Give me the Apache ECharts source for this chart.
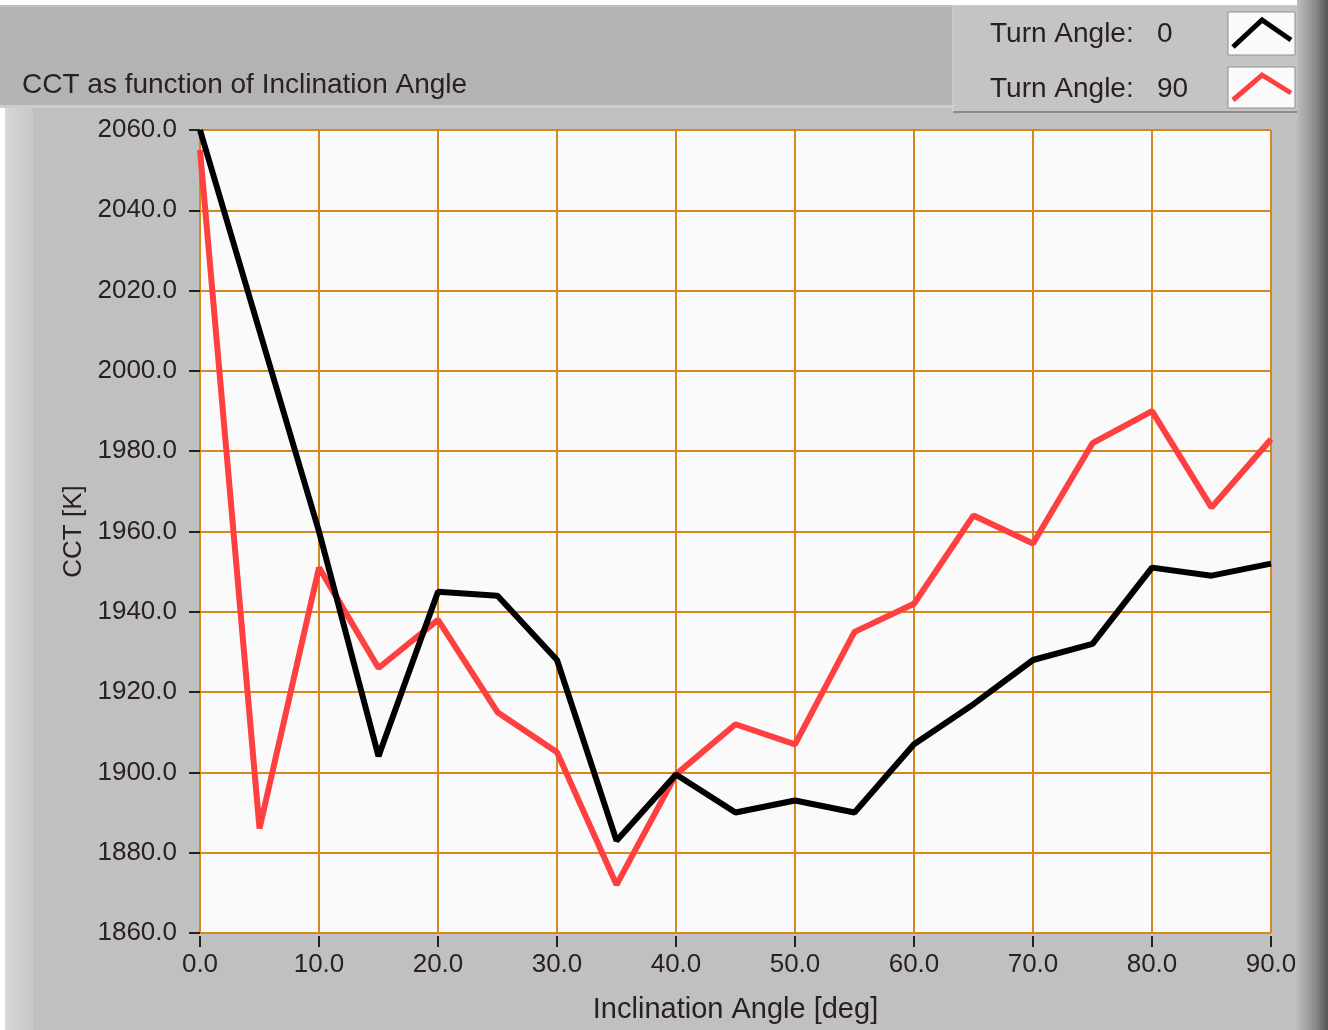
<!DOCTYPE html>
<html>
<head>
<meta charset="utf-8">
<script src="https://cdn.jsdelivr.net/npm/echarts@6/dist/echarts.min.js"></script>
<style>
  html, body {margin: 0; padding: 0; background: #fff;}
  #chart {width: 1328px; height: 1030px;}
</style>
</head>
<body>
<div id="chart"></div>
<script>
// inclination angle [deg]
const angles = [0, 5, 10, 15, 20, 25, 30, 35, 40, 45, 50, 55, 60, 65, 70, 75, 80, 85, 90];
// CCT [K] for turn angle 0
const turn0 = [2060, 2010, 1960, 1904, 1945, 1944, 1928, 1883, 1899.5, 1890, 1893, 1890, 1907, 1917, 1928, 1932, 1951, 1949, 1952];
// CCT [K] for turn angle 90
const turn90 = [2055, 1886, 1951, 1926, 1938, 1915, 1905, 1872, 1899.5, 1912, 1907, 1935, 1942, 1964, 1957, 1982, 1990, 1966, 1983];
const turnLabels = ['0', '90'];
const seriesNames = ['Turn Angle: 0', 'Turn Angle: 90'];
const lineColors = ['#000000', '#ff4040'];

const font = '"Liberation Sans", Arial, sans-serif';
const textColor = '#2a2024';
const gridColor = '#d4891e';

const chart = echarts.init(document.getElementById('chart'));

const pairs = (ys) => angles.map((x, i) => [x, ys[i]]);

// little sample box with a chevron, like the LabVIEW plot legend
const sampleBox = (y, h, color) => [
	{type: 'rect', z: 1, shape: {x: 1228, y: y, width: 67, height: h}, style: {fill: '#fafafa', stroke: '#8f8f8f', lineWidth: 1}},
	{type: 'polyline', z: 2, shape: {points: [[1233, y + h - 8], [1262, y + 8], [1291, y + h - 15]]},
		style: {stroke: color, lineWidth: 5, fill: null}}
];

chart.setOption({
	backgroundColor: '#c0c0c0',
	animation: false,
	textStyle: {fontFamily: font},
	title: {
		text: 'CCT as function of Inclination Angle',
		left: 17,
		top: 66,
		textStyle: {fontSize: 28, fontWeight: 'normal', color: textColor, fontFamily: font}
	},
	graphic: [
		// top band behind the title
		{type: 'rect', z: -1, shape: {x: 0, y: 7, width: 953, height: 98}, style: {fill: '#b3b3b3'}},
		{type: 'rect', z: -1, shape: {x: 0, y: 105, width: 953, height: 3}, style: {fill: '#cdcdcd'}},
		// legend panel
		{type: 'rect', z: -1, shape: {x: 953, y: 5, width: 360, height: 107}, style: {fill: '#c4c4c4', stroke: '#d8d8d8', lineWidth: 1}},
		{type: 'rect', z: -1, shape: {x: 953, y: 111, width: 360, height: 2}, style: {fill: '#8c8c8c'}},
		// white row at the very top
		{type: 'rect', z: -1, shape: {x: 0, y: 0, width: 1328, height: 5}, style: {fill: '#ffffff'}},
		// left light edge
		{type: 'rect', z: -1, shape: {x: 0, y: 108, width: 5, height: 922}, style: {fill: '#ffffff'}},
		{type: 'rect', z: -1, shape: {x: 5, y: 108, width: 28, height: 922}, style: {
			fill: new echarts.graphic.LinearGradient(0, 0, 1, 0, [
				{offset: 0, color: '#d8d8d8'}, {offset: 1, color: '#c8c8c8'}
			])
		}},
		// right dark edge
		{type: 'rect', z: -1, shape: {x: 1297, y: 0, width: 31, height: 1030}, style: {
			fill: new echarts.graphic.LinearGradient(0, 0, 1, 0, [
				{offset: 0, color: '#bcbcbc'}, {offset: 0.6, color: '#8a8a8a'}, {offset: 1, color: '#555555'}
			])
		}},
		...sampleBox(12, 43, lineColors[0]),
		...sampleBox(67, 41, lineColors[1])
	],
	legend: {
		orient: 'vertical',
		left: 979,
		top: 15,
		align: 'left',
		itemWidth: 1,
		itemHeight: 27,
		itemGap: 27,
		icon: 'rect',
		itemStyle: {opacity: 0},
		lineStyle: {opacity: 0},
		selectedMode: false,
		formatter: (name) => '{a|Turn Angle:}{b|' + turnLabels[seriesNames.indexOf(name)] + '}',
		textStyle: {
			color: textColor,
			fontFamily: font,
			rich: {
				a: {width: 167, align: 'left', fontSize: 28, color: textColor, fontFamily: font},
				b: {width: 71, align: 'left', fontSize: 28, color: textColor, fontFamily: font}
			}
		},
		data: seriesNames
	},
	grid: {
		left: 200,
		top: 130,
		right: 57,
		bottom: 97,
		show: true,
		backgroundColor: '#fafafa',
		borderColor: '#8a8a8a',
		borderWidth: 1
	},
	xAxis: {
		type: 'value',
		min: 0,
		max: 90,
		interval: 10,
		offset: 3,
		name: 'Inclination Angle [deg]',
		nameLocation: 'middle',
		nameGap: 59,
		nameTextStyle: {fontSize: 29, color: textColor, fontFamily: font},
		axisLine: {show: false},
		axisTick: {show: true, length: 11, lineStyle: {color: '#222', width: 2}},
		axisLabel: {
			fontSize: 26, color: textColor, fontFamily: font, margin: 16,
			formatter: (v) => v.toFixed(1)
		},
		splitLine: {show: true, lineStyle: {color: gridColor, width: 2}}
	},
	yAxis: {
		type: 'value',
		min: 1860,
		max: 2060,
		interval: 20,
		offset: 4,
		name: 'CCT [K]',
		nameLocation: 'middle',
		nameGap: 106,
		nameTextStyle: {fontSize: 26, color: textColor, fontFamily: font},
		axisLine: {show: false},
		axisTick: {show: true, length: 11, lineStyle: {color: '#222', width: 2}},
		axisLabel: {
			fontSize: 26, color: textColor, fontFamily: font, margin: 19,
			formatter: (v) => v.toFixed(1)
		},
		splitLine: {show: true, lineStyle: {color: gridColor, width: 2}}
	},
	series: [
		{
			name: seriesNames[0],
			type: 'line',
			data: pairs(turn0),
			showSymbol: false,
			color: lineColors[0],
			lineStyle: {color: lineColors[0], width: 6},
			z: 3
		},
		{
			name: seriesNames[1],
			type: 'line',
			data: pairs(turn90),
			showSymbol: false,
			color: lineColors[1],
			lineStyle: {color: lineColors[1], width: 6},
			z: 2
		}
	]
});
</script>
</body>
</html>
